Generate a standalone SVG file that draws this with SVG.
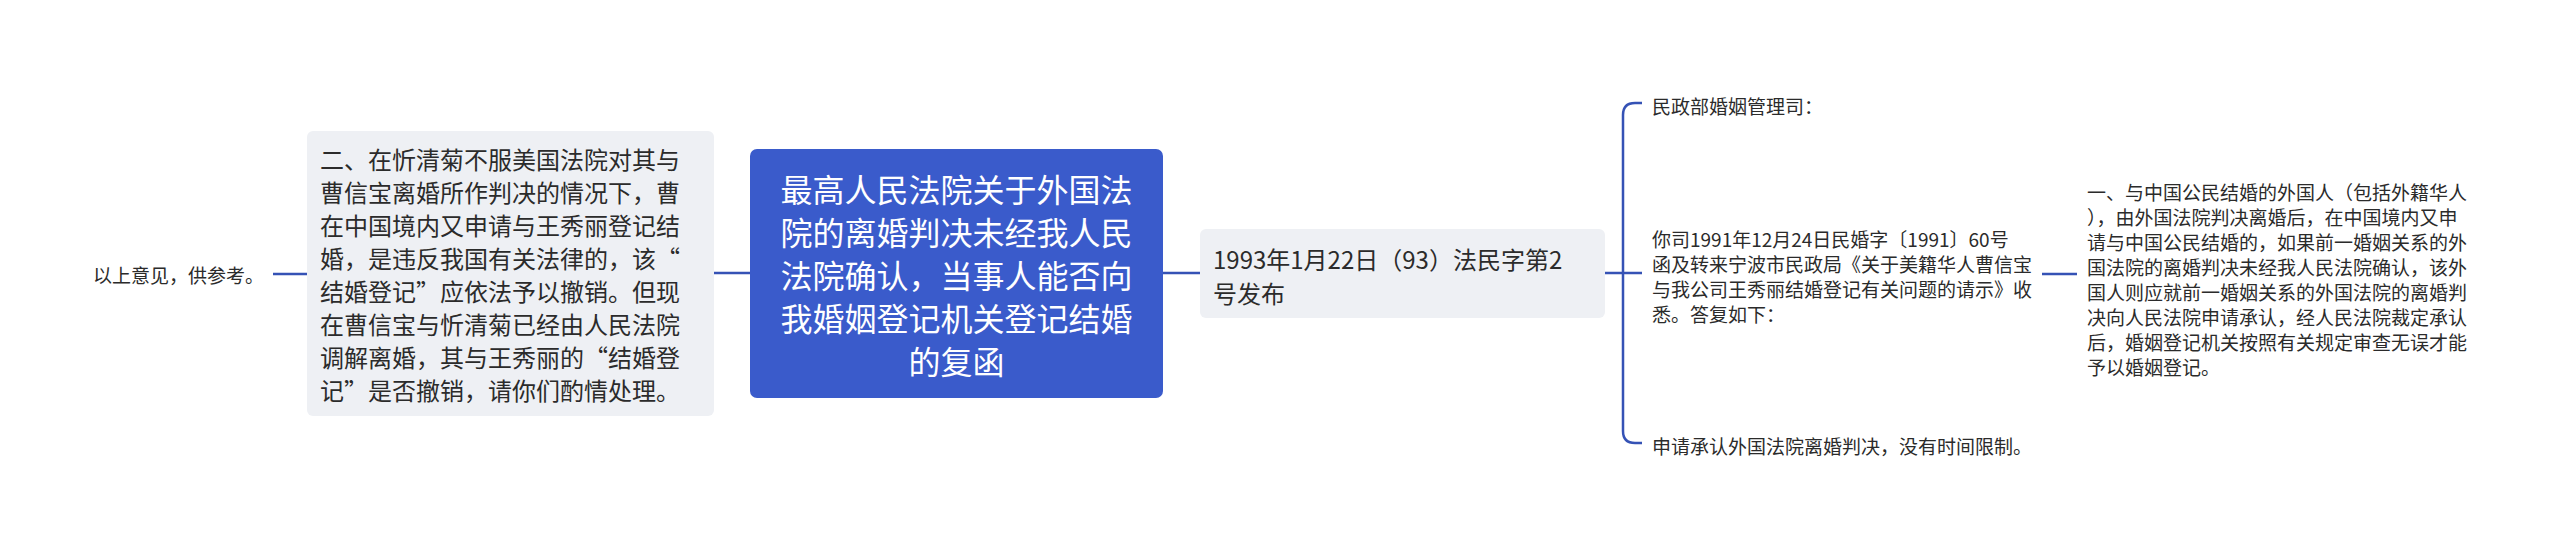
<svg xmlns="http://www.w3.org/2000/svg" width="2560" height="548" viewBox="0 0 2560 548">
<style>
.t{font-family:"Noto Sans CJK SC","Noto Sans",sans-serif;fill:#2b2b2b;dominant-baseline:central}
.s{font-size:19px}
.m{font-size:24px}
.big{font-size:32px;fill:#ffffff;text-anchor:middle}
.box{fill:#eef0f4}
.c{fill:none;stroke:#3552b5;stroke-width:2.5}
</style>
<rect width="2560" height="548" fill="#ffffff"/>
<g id="connectors">
<path class="c" d="M273,274 H307"/>
<path class="c" d="M714,273 H750"/>
<path class="c" d="M1163,273 H1200"/>
<path class="c" d="M1605,273 H1642"/>
<path class="c" d="M1642,103 H1635 Q1623,103 1623,115 V431 Q1623,443 1635,443 H1642"/>
<path class="c" d="M2042,274 H2077"/>
</g>
<g id="node-ref">
<text class="t s" x="93" y="274">以上意见，供参考。</text>
</g>
<g id="node-two">
<rect class="box" x="307" y="131" width="407" height="285" rx="6"/>
<text class="t m" x="320" y="158">二、在忻清菊不服美国法院对其与</text>
<text class="t m" x="320" y="191">曹信宝离婚所作判决的情况下，曹</text>
<text class="t m" x="320" y="224">在中国境内又申请与王秀丽登记结</text>
<text class="t m" x="320" y="257">婚，是违反我国有关法律的，该“</text>
<text class="t m" x="320" y="290">结婚登记”应依法予以撤销。但现</text>
<text class="t m" x="320" y="323">在曹信宝与忻清菊已经由人民法院</text>
<text class="t m" x="320" y="356">调解离婚，其与王秀丽的“结婚登</text>
<text class="t m" x="320" y="389">记”是否撤销，请你们酌情处理。</text>
</g>
<g id="node-main">
<rect x="750" y="149" width="413" height="249" rx="7" fill="#3a5bcb"/>
<text class="t big" x="956.5" y="187.5">最高人民法院关于外国法</text>
<text class="t big" x="956.5" y="230.5">院的离婚判决未经我人民</text>
<text class="t big" x="956.5" y="273.5">法院确认，当事人能否向</text>
<text class="t big" x="956.5" y="316.5">我婚姻登记机关登记结婚</text>
<text class="t big" x="956.5" y="359.5">的复函</text>
</g>
<g id="node-date">
<rect class="box" x="1200" y="229" width="405" height="89" rx="6"/>
<text class="t m" x="1213" y="258">1993年1月22日（93）法民字第2</text>
<text class="t m" x="1213" y="292">号发布</text>
</g>
<g id="node-greet">
<text class="t s" x="1652" y="105">民政部婚姻管理司：</text>
</g>
<g id="node-letter">
<text class="t s" x="1652" y="238">你司1991年12月24日民婚字〔1991〕60号</text>
<text class="t s" x="1652" y="263">函及转来宁波市民政局《关于美籍华人曹信宝</text>
<text class="t s" x="1652" y="288">与我公司王秀丽结婚登记有关问题的请示》收</text>
<text class="t s" x="1652" y="313">悉。答复如下：</text>
</g>
<g id="node-limit">
<text class="t s" x="1652" y="445">申请承认外国法院离婚判决，没有时间限制。</text>
</g>
<g id="node-one">
<text class="t s" x="2087" y="191">一、与中国公民结婚的外国人（包括外籍华人</text>
<text class="t s" x="2087" y="216">），由外国法院判决离婚后，在中国境内又申</text>
<text class="t s" x="2087" y="241">请与中国公民结婚的，如果前一婚姻关系的外</text>
<text class="t s" x="2087" y="266">国法院的离婚判决未经我人民法院确认，该外</text>
<text class="t s" x="2087" y="291">国人则应就前一婚姻关系的外国法院的离婚判</text>
<text class="t s" x="2087" y="316">决向人民法院申请承认，经人民法院裁定承认</text>
<text class="t s" x="2087" y="341">后，婚姻登记机关按照有关规定审查无误才能</text>
<text class="t s" x="2087" y="366">予以婚姻登记。</text>
</g>
</svg>
